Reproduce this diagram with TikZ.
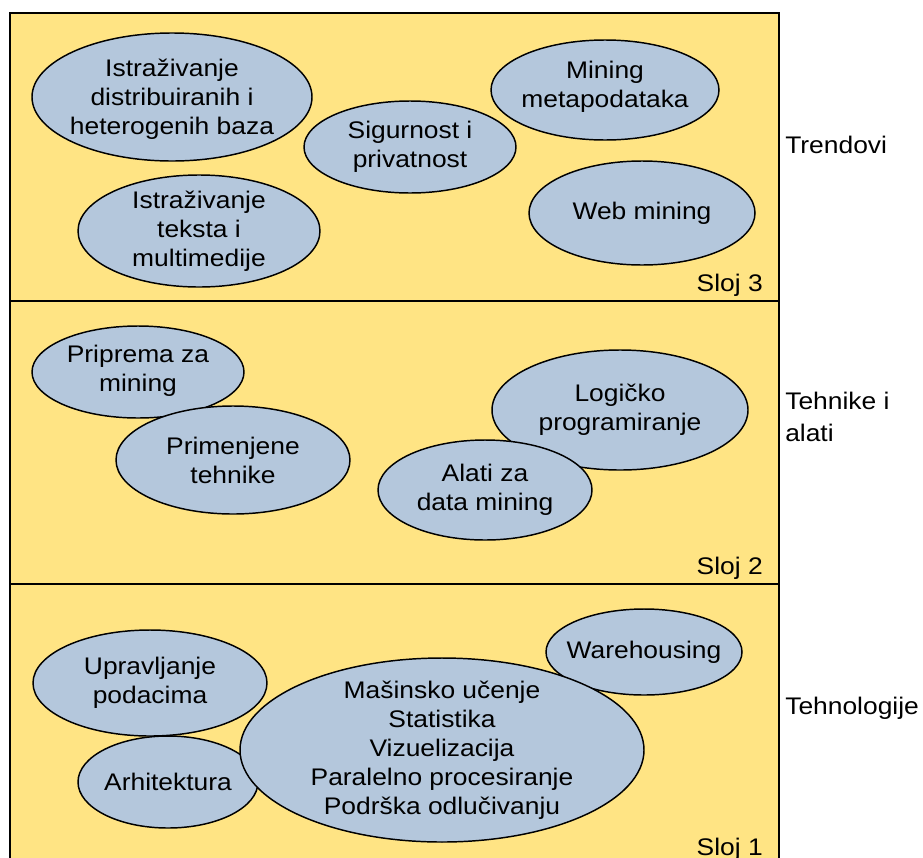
\documentclass[tikz,border=0pt]{standalone}
\usepackage{fontspec}
\setmainfont[FakeStretch=1.1]{Liberation Sans}
\definecolor{layerfill}{RGB}{255,228,132}
\definecolor{ellfill}{RGB}{180,199,220}
\begin{document}
\begin{tikzpicture}[x=0.75pt,y=-0.75pt,
  layer/.style={draw=black,line width=1.1pt,fill=layerfill},
  ell/.style={draw=black,line width=1.1pt,fill=ellfill},
  txt/.style={align=center,font=\fontsize{18pt}{21.75pt}\selectfont,inner sep=0pt},
  side/.style={anchor=west,align=left,font=\fontsize{18pt}{24pt}\selectfont,inner sep=0pt},
  sloj/.style={anchor=base east,font=\fontsize{18pt}{21.75pt}\selectfont,inner sep=0pt}]
\useasboundingbox (0,0) rectangle (923,857);
\begin{scope}
\clip (0,0) rectangle (923,857);
% layers
\path[layer] (10,13) rectangle (779,301);
\path[layer] (10,301) rectangle (779,584);
\path[layer] (10,584) rectangle (779,870);
% Layer 3
\path[ell] (172,97) ellipse [x radius=140, y radius=64];
\node[txt] (dist) at (172,99) {Istraživanje\\distribuiranih i\\heterogenih baza};
\path[ell] (199,231) ellipse [x radius=121, y radius=56];
\node[txt] (tekst) at (199,231) {Istraživanje\\teksta i\\multimedije};
\path[ell] (410,147) ellipse [x radius=106, y radius=46];
\node[txt] (sig) at (410,147) {Sigurnost i\\privatnost};
\path[ell] (605,90) ellipse [x radius=114, y radius=50];
\node[txt] (meta) at (605,87) {Mining\\metapodataka};
\path[ell] (642,213) ellipse [x radius=113, y radius=52];
\node[txt] (web) at (642,213) {Web mining};
\node[sloj] (s3) at (763,291) {Sloj 3};
\node[side] (trend) at (785,145) {Trendovi};
% Layer 2
\path[ell] (138,372) ellipse [x radius=106, y radius=46];
\node[txt] (prip) at (138,371) {Priprema za\\mining};
\path[ell] (233,460) ellipse [x radius=117, y radius=54];
\node[txt] (prim) at (233,460) {Primenjene\\tehnike};
\path[ell] (620,410) ellipse [x radius=128, y radius=60];
\node[txt] (log) at (620,410) {Logičko\\programiranje};
\path[ell] (485,490) ellipse [x radius=107, y radius=50];
\node[txt] (alati) at (485,490) {Alati za\\data mining};
\node[sloj] (s2) at (763,574) {Sloj 2};
\node[side] (teh) at (785,417) {Tehnike i\\alati};
% Layer 1
\path[ell] (150,683) ellipse [x radius=117, y radius=53];
\node[txt] (upr) at (150,683) {Upravljanje\\podacima};
\path[ell] (168,782) ellipse [x radius=90, y radius=46];
\node[txt] (arh) at (168,782) {Arhitektura};
\path[ell] (644,652) ellipse [x radius=98, y radius=43];
\node[txt] (ware) at (644,652) {Warehousing};
\path[ell] (442,750) ellipse [x radius=202, y radius=92];
\node[txt] (big) at (442,750) {Mašinsko učenje\\Statistika\\Vizuelizacija\\Paralelno procesiranje\\Podrška odlučivanju};
\node[sloj] (s1) at (763,855) {Sloj 1};
\node[side] (tehn) at (785,708) {Tehnologije};
\end{scope}
\end{tikzpicture}
\end{document}
